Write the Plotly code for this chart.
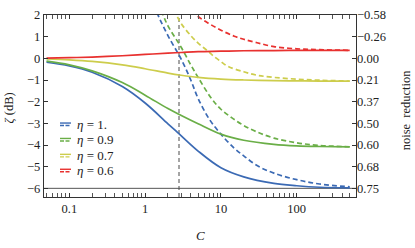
import plotly.graph_objects as go

# ---------------- data ----------------
C_solid = [0.05, 0.1, 0.2, 0.5, 1, 2, 3, 5, 10, 20, 50, 100, 200, 500]
zeta_solid_eta1 = [-0.18, -0.35, -0.64, -1.30, -2.06, -3.02, -3.58, -4.28, -5.05, -5.47, -5.77, -5.88, -5.95, -5.98]
zeta_solid_eta09 = [-0.13, -0.30, -0.58, -1.12, -1.70, -2.32, -2.64, -3.02, -3.50, -3.78, -3.97, -4.04, -4.07, -4.09]
zeta_solid_eta07 = [-0.03, -0.07, -0.14, -0.30, -0.48, -0.68, -0.78, -0.88, -0.96, -1.00, -1.03, -1.04, -1.05, -1.05]
zeta_solid_eta06 = [0.01, 0.03, 0.06, 0.12, 0.18, 0.24, 0.27, 0.31, 0.33, 0.35, 0.36, 0.37, 0.37, 0.37]

C_dash_eta1 = [1.2, 1.5, 2, 3, 4, 5, 7, 10, 15, 20, 30, 50, 100, 200, 500]
zeta_dash_eta1 = [2.8, 1.95, 1.05, -0.05, -1.0, -1.85, -2.8, -3.5, -4.15, -4.5, -4.95, -5.3, -5.6, -5.8, -5.93]
C_dash_eta09 = [1.4, 1.75, 2, 3, 4, 5, 7.5, 10, 14, 20, 30, 50, 100, 200, 500]
zeta_dash_eta09 = [2.9, 1.95, 1.5, 0.5, -0.3, -0.88, -1.85, -2.35, -2.75, -3.1, -3.4, -3.68, -3.9, -4.02, -4.08]
C_dash_eta07 = [2.2, 2.6, 3, 4, 5, 6.5, 8, 10, 12.5, 20, 30, 50, 100, 200, 500]
zeta_dash_eta07 = [2.6, 2.0, 1.6, 1.05, 0.7, 0.38, 0.1, -0.15, -0.38, -0.62, -0.78, -0.88, -0.96, -1.01, -1.05]
C_dash_eta06 = [3.6, 4.2, 5, 7, 10, 15, 20, 30, 50, 100, 200, 500]
zeta_dash_eta06 = [2.5, 2.2, 1.93, 1.6, 1.3, 1.02, 0.88, 0.72, 0.54, 0.44, 0.40, 0.37]

eta_labels = ["\u03b7 = 1.", "\u03b7 = 0.9", "\u03b7 = 0.7", "\u03b7 = 0.6"]
colors = ["#3b6ab4", "#6aae47", "#cdcd4c", "#e8312f"]

C_marker = 2.8          # vertical dashed reference line
zeta_floor = -6         # horizontal reference line

left_ticks = [-6, -5, -4, -3, -2, -1, 0, 1, 2]
right_ticktext = ["0.75", "0.68", "0.60", "0.50", "0.37", "0.21", "0.00", "\u22120.26", "\u22120.58"]

# ---------------- figure ----------------
FONT = "Liberation Serif, Times New Roman, Times, serif"
W, H = 415, 248
ML, MR, MT, MB = 44, 59, 8, 51
PW, PH = W - ML - MR, H - MT - MB
YR = [-6.4, 2.0]
XR = [-1.334, 2.782]

fig = go.Figure()

solids = [zeta_solid_eta1, zeta_solid_eta09, zeta_solid_eta07, zeta_solid_eta06]
dashes = [(C_dash_eta1, zeta_dash_eta1), (C_dash_eta09, zeta_dash_eta09),
          (C_dash_eta07, zeta_dash_eta07), (C_dash_eta06, zeta_dash_eta06)]

# reference vertical line (drawn first, under curves)
fig.add_trace(go.Scatter(x=[C_marker, C_marker], y=YR, mode="lines",
                         line=dict(color="#4a4a4a", width=1, dash="4px,3px"),
                         showlegend=False, hoverinfo="skip"))

for i in range(4):
    fig.add_trace(go.Scatter(x=C_solid, y=solids[i], mode="lines", line_shape="spline",
                             line=dict(color=colors[i], width=1.7), showlegend=False))
    cx, cy = dashes[i]
    fig.add_trace(go.Scatter(x=cx, y=cy, mode="lines", line_shape="spline",
                             line=dict(color=colors[i], width=1.7, dash="5px,3px"),
                             showlegend=False))

# dummy trace for right axis
fig.add_trace(go.Scatter(x=[1], y=[0], yaxis="y2", mode="markers",
                         marker=dict(opacity=0), showlegend=False, hoverinfo="skip"))

shapes = [dict(type="line", xref="paper", yref="y", x0=0, x1=1, y0=zeta_floor, y1=zeta_floor,
               line=dict(color="#555555", width=1), layer="below")]

annotations = []
# legend (manual)
leg_y = [121.5, 137.5, 154, 169.5]
for i in range(4):
    py = leg_y[i]
    x0 = (60 - ML) / PW
    x1 = (71 - ML) / PW
    ys = (MT + PH - (py - 1.3)) / PH
    yd = (MT + PH - (py + 1.3)) / PH
    shapes.append(dict(type="line", xref="paper", yref="paper", x0=x0, x1=x1, y0=ys, y1=ys,
                       line=dict(color=colors[i], width=1.4)))
    shapes.append(dict(type="line", xref="paper", yref="paper", x0=x0, x1=x1, y0=yd, y1=yd,
                       line=dict(color=colors[i], width=1.4, dash="4px,1.5px")))
    label = eta_labels[i].replace("\u03b7", "<i>\u03b7</i>")
    annotations.append(dict(xref="paper", yref="paper", x=(75 - ML) / PW, y=(MT + PH - py) / PH,
                            text=label, showarrow=False, xanchor="left", yanchor="middle",
                            font=dict(family=FONT, size=13, color="#222222")))

# axis titles
annotations.append(dict(xref="paper", yref="paper", x=(9 - ML) / PW, y=(MT + PH - 105) / PH,
                        text="<i>\u03b6</i> (dB)", textangle=-90, showarrow=False,
                        xanchor="center", yanchor="middle",
                        font=dict(family=FONT, size=12.5, color="#222222")))
annotations.append(dict(xref="paper", yref="paper", x=(406 - ML) / PW, y=(MT + PH - 107) / PH,
                        text="noise  reduction", textangle=-90, showarrow=False,
                        xanchor="center", yanchor="middle",
                        font=dict(family=FONT, size=12.5, color="#222222")))
annotations.append(dict(xref="paper", yref="paper", x=(200 - ML) / PW, y=(MT + PH - 237) / PH,
                        text="<i>C</i>", showarrow=False, xanchor="center", yanchor="middle",
                        font=dict(family=FONT, size=13, color="#222222")))

axis_line = dict(showline=True, linecolor="#333333", linewidth=1.2, showgrid=False, zeroline=False)
fig.update_layout(
    width=W, height=H, autosize=False,
    margin=dict(l=ML, r=MR, t=MT, b=MB, pad=0),
    paper_bgcolor="white", plot_bgcolor="white",
    font=dict(family=FONT, size=12.5, color="#222222"),
    hovermode=False,
    xaxis=dict(type="log", range=XR, tickvals=[0.1, 1, 10, 100], ticktext=["0.1", "1", "10", "100"],
               ticks="inside", ticklen=4, tickcolor="#333333", mirror="allticks",
               minor=dict(ticks="inside", ticklen=2, tickcolor="#555555", dtick="D1"),
               **axis_line),
    yaxis=dict(range=YR, tickvals=left_ticks, ticks="inside", ticklen=4, tickcolor="#333333",
               mirror=True, **axis_line),
    yaxis2=dict(range=YR, overlaying="y", side="right", tickvals=left_ticks,
                ticktext=right_ticktext, ticks="inside", ticklen=4, tickcolor="#333333",
                showgrid=False, zeroline=False, showline=False),
    shapes=shapes, annotations=annotations,
)

fig.write_html("out.html", config={"displayModeBar": False, "staticPlot": True},
               post_script="document.body.style.margin='0';document.body.style.padding='0';")
